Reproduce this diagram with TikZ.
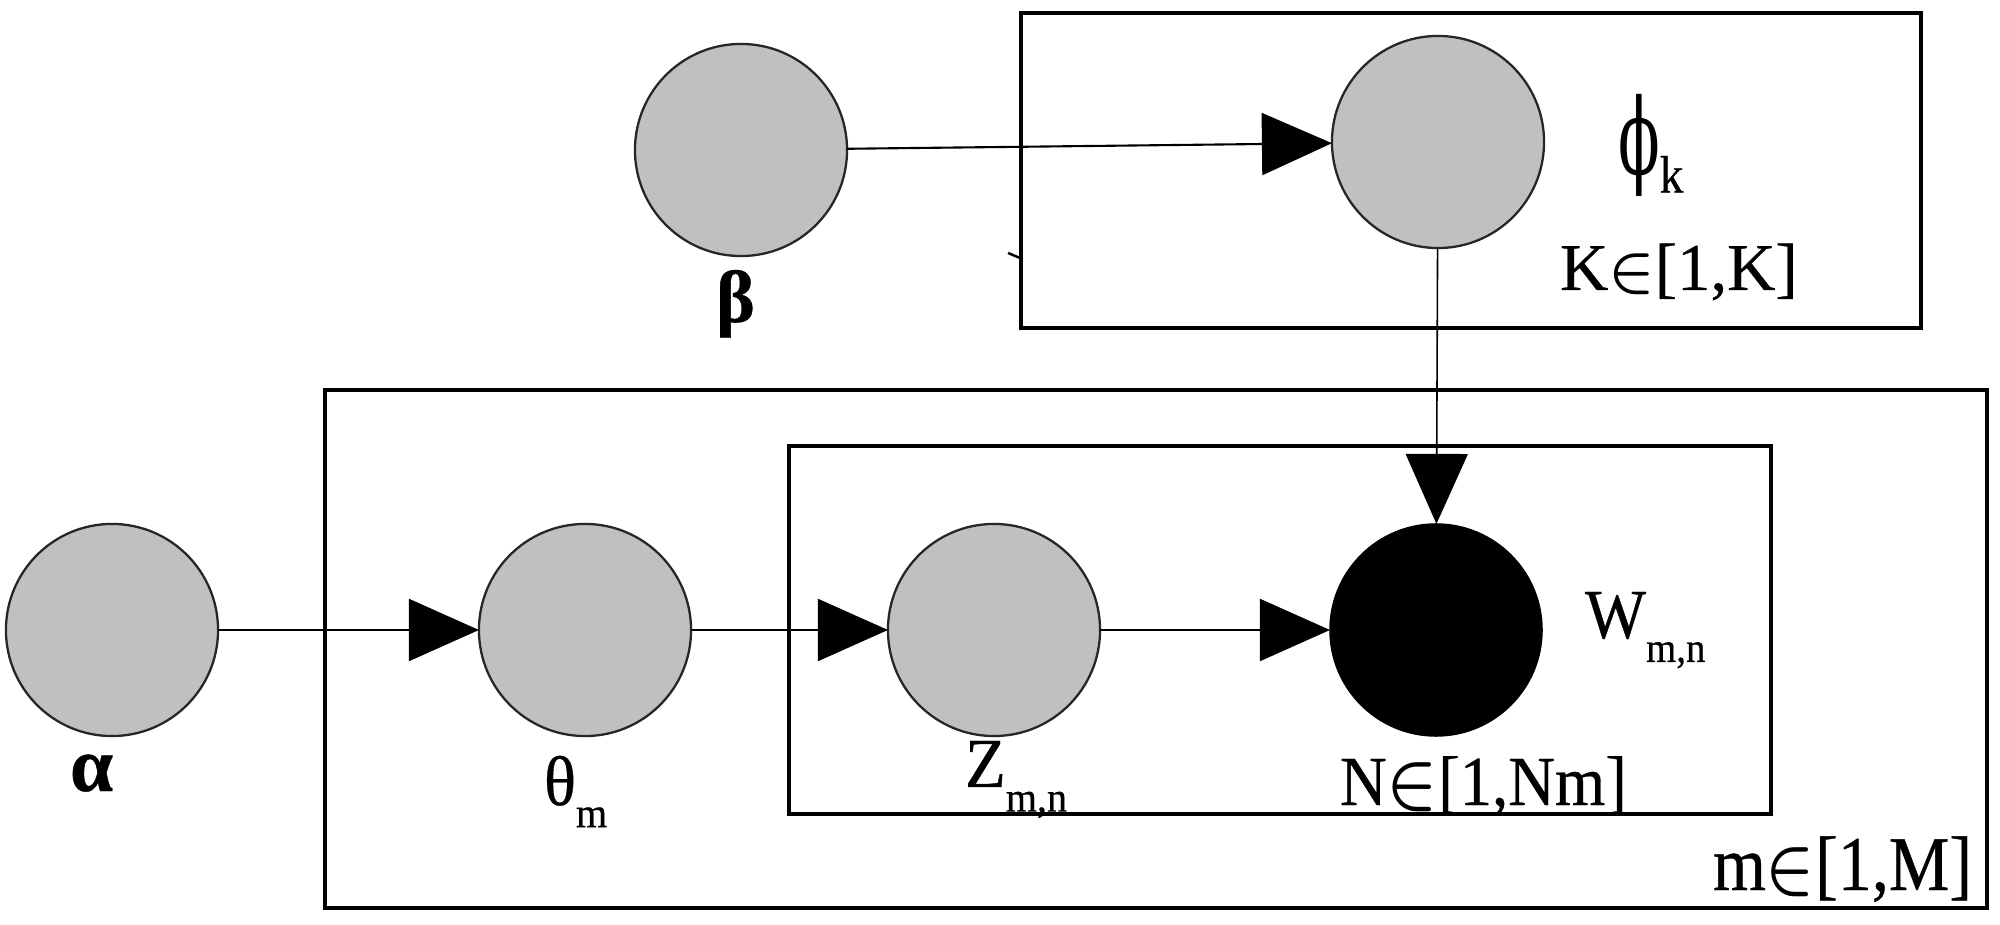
\documentclass[tikz,border=0pt]{standalone}
\usepackage{fontspec}
\setmainfont{Liberation Serif}[FakeBold=0.5]
\newfontfamily\dvs{DejaVu Serif}
\usetikzlibrary{arrows.meta}
\definecolor{nodegray}{RGB}{192,192,192}
\newcommand{\cnd}[2]{\scalebox{#1}[1]{#2}}
\newcommand{\fs}[1]{\fontsize{#1pt}{#1pt}\selectfont}
\newcommand{\elt}{{\boldmath$\in$}}
\begin{document}
\begin{tikzpicture}[x=0.01cm,y=-0.01cm,
  var/.style={circle,draw=black!85,line width=0.65pt,fill=nodegray,minimum size=2.12cm,inner sep=0pt,outer sep=0pt},
  obs/.style={circle,fill=black,draw=black,minimum size=2.12cm,inner sep=0pt,outer sep=0pt},
  plate/.style={draw=black,line width=1.15pt},
  edge/.style={draw=black,line width=0.6pt,-{Triangle[length=0.7cm,width=0.62cm]}},
  lbl/.style={inner sep=0pt,outer sep=0pt,anchor=base west}]
\useasboundingbox[fill=white] (0,0) rectangle (2000,925);
% plates
\draw[plate] (1021,13) rectangle (1921,328);
\draw[plate] (325,390) rectangle (1987,908);
\draw[plate] (789,446) rectangle (1771,814);
% variables
\node[var] (beta)  at (741,150) {};
\node[var] (phi)   at (1438,142) {};
\node[var] (alpha) at (112,630) {};
\node[var] (theta) at (585,630) {};
\node[var] (z)     at (994,630) {};
\node[obs] (w)     at (1436,630) {};
% edges
\draw[edge] (beta) -- (phi);
\draw[edge,line width=0.45pt] (phi) -- (w);
\draw[edge] (alpha) -- (theta);
\draw[edge] (theta) -- (z);
\draw[edge] (z) -- (w);
% small stroke
\coordinate (tickA) at (1008,253);
\coordinate (tickB) at (1020,258);
\draw[line width=0.7pt] (tickA) -- (tickB);
% labels
\node[lbl] (betalab)  at (716,322) {\fs{21}\bfseries β};
\node[lbl] (alphalab) at (70,791) {\fs{22}\bfseries α};
\node[lbl] (thetalab) at (544,805) {\cnd{0.95}{\fs{20}θ\raisebox{-6.3pt}{\fs{12}m}}};
\node[lbl] (zlab)     at (965,787) {\cnd{0.95}{\fs{20}Z\raisebox{-7pt}{\fs{12}m,n}}};
\node[lbl] (wlab)     at (1585,638) {\cnd{0.92}{\fs{20}W\raisebox{-6.8pt}{\fs{12}m,n}}};
\node[lbl] (philab)   at (1618,175) {\cnd{0.58}{\dvs\fs{30}ϕ}\raisebox{-5pt}{\cnd{0.9}{\fs{15}k}}};
\node[lbl] (klab)     at (1560,290) {\fs{19}K\elt[1,K]};
\node[lbl] (nlab)     at (1340,805) {\cnd{0.92}{\fs{20}N\elt[1,Nm]}};
\node[lbl] (mlab)     at (1713,890) {\cnd{0.88}{\fs{22}m\elt[1,M]}};
\end{tikzpicture}
\end{document}
